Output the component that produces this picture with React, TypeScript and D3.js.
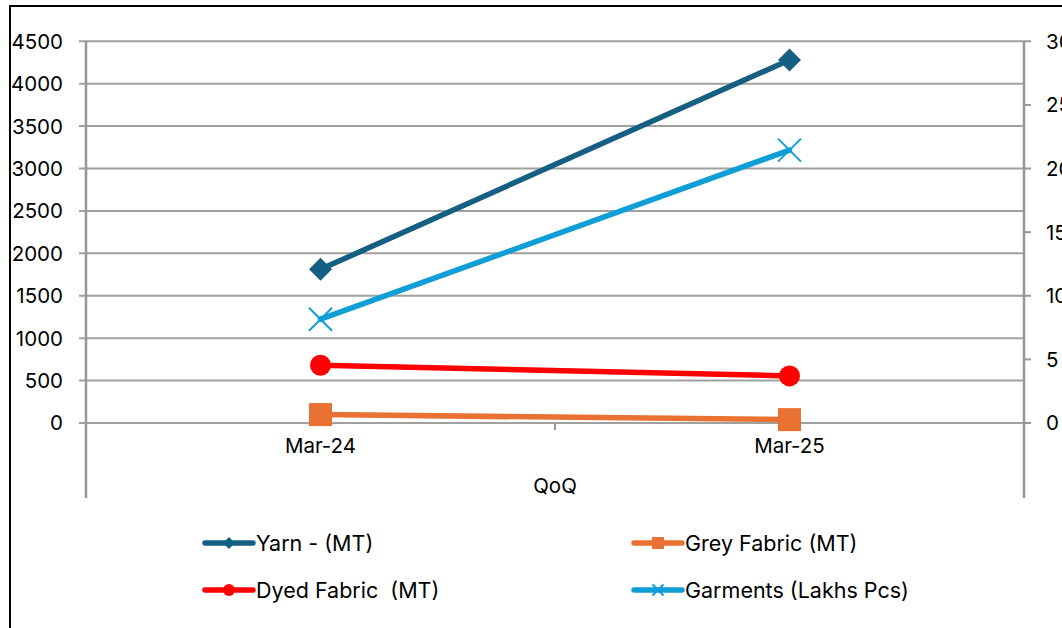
import React from 'react';
import * as d3 from 'd3';

// Data
const CATEGORIES = ['Mar-24', 'Mar-25'];
const YARN = [1812, 4280];
const GREY_FABRIC = [99, 40];
const DYED_FABRIC = [681, 555];
const GARMENTS = [8.16, 21.45]; // right axis (Lakhs Pcs)
const LEFT_TICKS = [0, 500, 1000, 1500, 2000, 2500, 3000, 3500, 4000, 4500];
const RIGHT_TICKS = [0, 5, 10, 15, 20, 25, 30];

const W = 1062;
const H = 628;
const FONT = 'Inter, "Liberation Sans", Arial, sans-serif';

type Marker = 'diamond' | 'square' | 'circle' | 'x';

const SERIES: { name: string; values: number[]; color: string; marker: Marker; axis: 'left' | 'right' }[] = [
  { name: 'Yarn - (MT)', values: YARN, color: '#156082', marker: 'diamond', axis: 'left' },
  { name: 'Grey Fabric (MT)', values: GREY_FABRIC, color: '#E97132', marker: 'square', axis: 'left' },
  { name: 'Dyed Fabric  (MT)', values: DYED_FABRIC, color: '#FF0000', marker: 'circle', axis: 'left' },
  { name: 'Garments (Lakhs Pcs)', values: GARMENTS, color: '#0F9ED5', marker: 'x', axis: 'right' },
];

const MarkerShape: React.FC<{ type: Marker; x: number; y: number; size: number; color: string }> = ({ type, x, y, size, color }) => {
  const h = size / 2;
  if (type === 'diamond') {
    return <path d={`M${x},${y - h}L${x + h},${y}L${x},${y + h}L${x - h},${y}Z`} fill={color} />;
  }
  if (type === 'square') {
    return <rect x={x - h} y={y - h} width={size} height={size} fill={color} />;
  }
  if (type === 'circle') {
    return <circle cx={x} cy={y} r={h} fill={color} />;
  }
  return (
    <path
      d={`M${x - h},${y - h}L${x + h},${y + h}M${x - h},${y + h}L${x + h},${y - h}`}
      stroke={color}
      strokeWidth={2}
      fill="none"
    />
  );
};

const App: React.FC = () => {
  const left = 86;
  const right = 1024;
  const top = 41.3;
  const zeroY = 423;
  const plotBottom = 498;

  const x = d3.scalePoint<string>().domain(CATEGORIES).range([left, right]).padding(0.5);
  const bandW = (right - left) / CATEGORIES.length;
  const yLeft = d3.scaleLinear().domain([0, 4500]).range([zeroY, top]);
  const yRight = d3.scaleLinear().domain([0, 30]).range([zeroY, top]);

  const gridColor = '#a0a0a0';
  const axisColor = '#969696';
  const fs = 20.5;

  const legendPos = [
    { x: 205, y: 543 },
    { x: 634, y: 543 },
    { x: 205, y: 590 },
    { x: 634, y: 590 },
  ];

  return (
    <div style={{ position: 'fixed', left: 0, top: 0, width: W, height: H, background: '#fff' }}>
      <svg width={W} height={H} style={{ display: 'block' }} fontFamily={FONT}>
        <rect x={0} y={0} width={W} height={H} fill="#fff" />
        <rect x={10} y={6} width={W + 20} height={H + 20} fill="none" stroke="#000" strokeWidth={2} />

        {/* gridlines + left ticks */}
        {LEFT_TICKS.map(t => (
          <g key={`l${t}`}>
            <line x1={79} x2={right} y1={yLeft(t)} y2={yLeft(t)} stroke={gridColor} strokeWidth={2} />
            <text x={63} y={yLeft(t)} dy="0.36em" textAnchor="end" fontSize={fs} fill="#000">
              {t}
            </text>
          </g>
        ))}

        {/* right axis */}
        <line x1={right} x2={right} y1={top} y2={plotBottom} stroke={axisColor} strokeWidth={2.5} />
        {RIGHT_TICKS.map(t => (
          <g key={`r${t}`}>
            <line x1={right} x2={right + 7} y1={yRight(t)} y2={yRight(t)} stroke={axisColor} strokeWidth={2} />
            <text x={1046} y={yRight(t)} dy="0.36em" textAnchor="start" fontSize={fs} fill="#000">
              {t}
            </text>
          </g>
        ))}

        {/* left axis */}
        <line x1={left} x2={left} y1={top} y2={plotBottom} stroke={axisColor} strokeWidth={2.5} />

        {/* category ticks between categories */}
        {CATEGORIES.slice(1).map((c, i) => (
          <line
            key={`ct${c}`}
            x1={left + bandW * (i + 1)}
            x2={left + bandW * (i + 1)}
            y1={zeroY}
            y2={zeroY + 7}
            stroke={axisColor}
            strokeWidth={2}
          />
        ))}

        {/* category labels */}
        {CATEGORIES.map(c => (
          <text key={c} x={x(c)} y={452.5} textAnchor="middle" fontSize={fs} fill="#000">
            {c}
          </text>
        ))}
        <text x={(left + right) / 2} y={492.5} textAnchor="middle" fontSize={fs} fill="#000">
          QoQ
        </text>

        {/* series */}
        {SERIES.map(s => {
          const y = s.axis === 'left' ? yLeft : yRight;
          const line = d3
            .line<number>()
            .x((_, i) => x(CATEGORIES[i]) as number)
            .y(d => y(d));
          return (
            <g key={s.name}>
              <path d={line(s.values) || ''} fill="none" stroke={s.color} strokeWidth={5.5} strokeLinecap="round" />
              {s.values.map((v, i) => (
                <MarkerShape
                  key={i}
                  type={s.marker}
                  x={x(CATEGORIES[i]) as number}
                  y={y(v)}
                  size={s.marker === 'circle' ? 21 : 23}
                  color={s.color}
                />
              ))}
            </g>
          );
        })}

        {/* legend */}
        {SERIES.map((s, i) => {
          const p = legendPos[i];
          return (
            <g key={`lg${s.name}`}>
              <line x1={p.x} x2={p.x + 48} y1={p.y} y2={p.y} stroke={s.color} strokeWidth={5.5} strokeLinecap="round" />
              <MarkerShape type={s.marker} x={p.x + 24} y={p.y} size={s.marker === 'x' ? 11 : 12} color={s.color} />
              <text x={p.x + 51} y={p.y} dy="0.36em" fontSize={21.5} fill="#000" style={{ whiteSpace: 'pre' }}>
                {s.name}
              </text>
            </g>
          );
        })}
      </svg>
    </div>
  );
};

export default App;
